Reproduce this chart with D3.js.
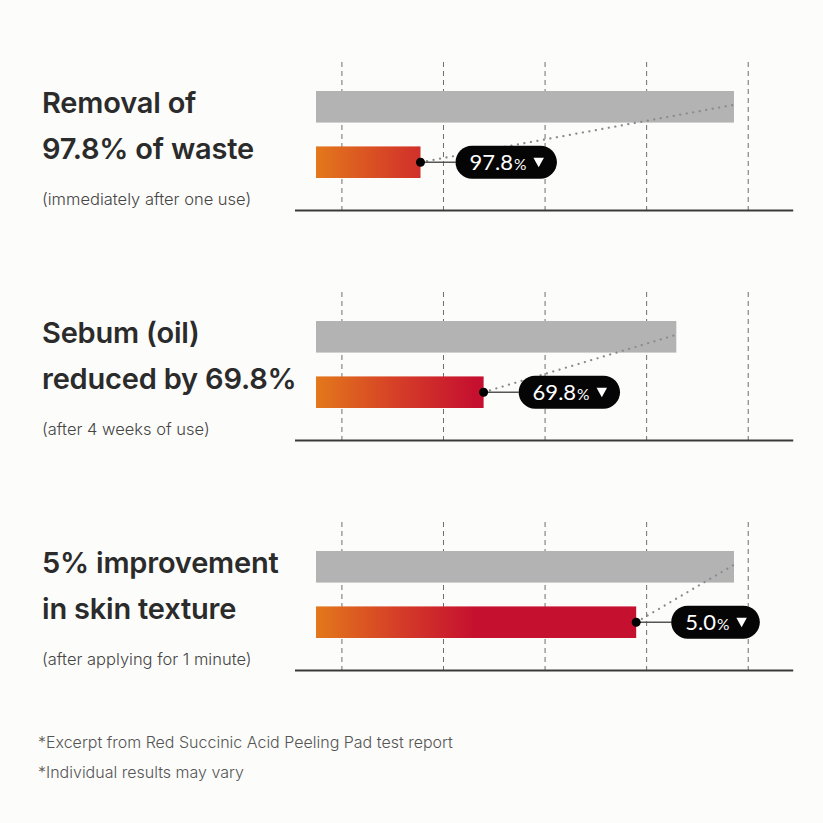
<!DOCTYPE html>
<html>
<head>
<meta charset="utf-8">
<script src="https://cdn.jsdelivr.net/npm/d3@7"></script>
<style>
  html, body { margin: 0; padding: 0; background: #fcfcfa; }
  svg { display: block; }
</style>
</head>
<body>
<svg id="chart" width="823" height="823"></svg>
<script>
// ---- data ----
const titleLine1 = ["Removal of", "Sebum (oil)", "5% improvement"];
const titleLine2 = ["97.8% of waste", "reduced by 69.8%", "in skin texture"];
const subtitles = ["(immediately after one use)", "(after 4 weeks of use)", "(after applying for 1 minute)"];
const beforeValues = [100, 86.2, 100];
const afterValues = [25.0, 40.1, 76.6];
const badgeValues = ["97.8", "69.8", "5.0"];
const gridValues = [6.2, 30.5, 54.8, 79.1, 103.4];
const footnotes = ["*Excerpt from Red Succinic Acid Peeling Pad test report", "*Individual results may vary"];

// ---- setup ----
const svg = d3.select("#chart");
svg.append("rect").attr("width", 823).attr("height", 823).attr("fill", "#fcfcfa");

const defs = svg.append("defs");
const grad = defs.append("linearGradient")
  .attr("id", "barGrad").attr("gradientUnits", "userSpaceOnUse")
  .attr("x1", 316).attr("x2", 475).attr("y1", 0).attr("y2", 0);
grad.append("stop").attr("offset", "0%").attr("stop-color", "#e3781b");
grad.append("stop").attr("offset", "55%").attr("stop-color", "#d43a28");
grad.append("stop").attr("offset", "100%").attr("stop-color", "#c5102f");

const x = d3.scaleLinear().domain([0, 100]).range([316, 734]);
const panelIdx = d3.range(titleLine1.length);
const panelY = d3.scalePoint().domain(panelIdx).range([0, 460]);
const barY = d3.scaleBand().domain(["before", "after"]).range([91, 178]).paddingInner(0.43).paddingOuter(0);

const gridTop = 62, baseY = 210.5;

panelIdx.forEach(i => {
  const g = svg.append("g").attr("transform", `translate(0,${panelY(i)})`);

  // gridlines
  g.selectAll("line.grid").data(gridValues).join("line")
    .attr("class", "grid")
    .attr("x1", d => x(d)).attr("x2", d => x(d))
    .attr("y1", gridTop).attr("y2", baseY)
    .attr("stroke", "#6e6e6e").attr("stroke-width", 1)
    .attr("stroke-dasharray", "5,4");

  // baseline
  g.append("line")
    .attr("x1", x.range()[0] - 21).attr("x2", x(d3.max(gridValues)) + 45)
    .attr("y1", baseY).attr("y2", baseY)
    .attr("stroke", "#3a3a3a").attr("stroke-width", 2);

  // before bar
  g.append("rect")
    .attr("x", x(0)).attr("y", barY("before"))
    .attr("width", x(beforeValues[i]) - x(0)).attr("height", barY.bandwidth())
    .attr("fill", "#b3b3b3");

  // after bar
  g.append("rect")
    .attr("x", x(0)).attr("y", barY("after"))
    .attr("width", x(afterValues[i]) - x(0)).attr("height", barY.bandwidth())
    .attr("fill", "url(#barGrad)");

  const dotX = x(afterValues[i]);
  const dotY = barY("after") + barY.bandwidth() / 2;
  const endX = x(beforeValues[i]);
  const endY = barY("before") + barY.bandwidth() / 2 - 2;

  // dotted connector to before bar end
  g.append("line")
    .attr("x1", dotX).attr("y1", dotY)
    .attr("x2", endX).attr("y2", endY)
    .attr("stroke", "#8a8a8a").attr("stroke-width", 2.2)
    .attr("stroke-linecap", "round")
    .attr("stroke-dasharray", "0.1,6.5");

  // badge
  const pillX = dotX + 35;
  const pillH = 33;
  const badge = g.append("g");
  const pillRect = badge.append("rect")
    .attr("y", dotY - pillH / 2).attr("height", pillH)
    .attr("rx", pillH / 2).attr("fill", "#050505");
  const txt = badge.append("text")
    .attr("x", pillX + 14).attr("y", dotY + 7.8)
    .attr("fill", "#ffffff")
    .attr("font-family", "Lato, 'Open Sans', sans-serif");
  txt.append("tspan").attr("font-size", 22).text(badgeValues[i]);
  txt.append("tspan").attr("font-size", 15.5).attr("dx", 1).text("%");
  const tw = txt.node().getComputedTextLength() + 1;
  const triX = pillX + 14 + tw + 7;
  badge.append("path")
    .attr("d", `M${triX},${dotY - 4.5} L${triX + 10.5},${dotY - 4.5} L${triX + 5.25},${dotY + 5} Z`)
    .attr("fill", "#ffffff");
  pillRect.attr("x", pillX).attr("width", 14 + tw + 7 + 10.5 + 13);

  // solid connector
  g.append("line")
    .attr("x1", dotX).attr("y1", dotY).attr("x2", pillX).attr("y2", dotY)
    .attr("stroke", "#555").attr("stroke-width", 1.5);
  badge.raise();

  // dot
  g.append("circle").attr("cx", dotX).attr("cy", dotY).attr("r", 4.5).attr("fill", "#000");

  // titles
  const tg = g.append("g").attr("font-family", "Inter, 'Noto Sans', sans-serif").attr("fill", "#2b2b2b");
  tg.append("text").attr("x", 42).attr("y", 113).attr("font-size", 29).attr("font-weight", 600)
    .attr("letter-spacing", -0.2).text(titleLine1[i]);
  tg.append("text").attr("x", 42).attr("y", 159).attr("font-size", 29).attr("font-weight", 600)
    .attr("letter-spacing", -0.2).text(titleLine2[i]);
  tg.append("text").attr("x", 42).attr("y", 205).attr("font-size", 16.5).attr("font-weight", 300)
    .attr("fill", "#454545").text(subtitles[i]);
});

// footnotes
svg.selectAll("text.foot").data(footnotes).join("text")
  .attr("class", "foot")
  .attr("x", 38).attr("y", (d, i) => 748 + i * 30)
  .attr("font-family", "Inter, 'Noto Sans', sans-serif")
  .attr("font-size", 16).attr("font-weight", 300)
  .attr("fill", "#555").text(d => d);
</script>
</body>
</html>
